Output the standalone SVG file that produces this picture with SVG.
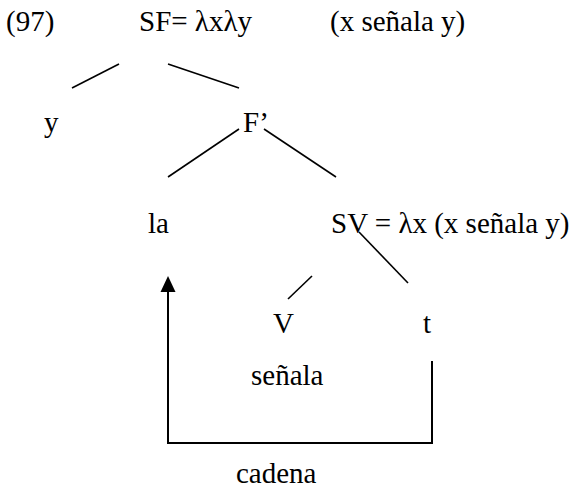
<svg xmlns="http://www.w3.org/2000/svg" width="574" height="491" viewBox="0 0 574 491">
<style>
text{font-family:"Liberation Serif","Times New Roman",serif;font-size:29px;fill:#000}
.e{stroke:#000;stroke-width:1.6;fill:none}
.c{stroke:#000;stroke-width:2;fill:none}
</style>
<rect width="574" height="491" fill="#fff"/>
<g id="label97"><text x="6" y="31">(97)</text></g>
<g id="SF"><text x="139" y="31">SF= λxλy</text></g>
<g id="SFgloss"><text x="330" y="31">(x señala y)</text></g>
<g id="y"><text x="44" y="132">y</text></g>
<g id="Fp"><text x="243" y="132">F’</text></g>
<g id="la"><text x="148" y="233">la</text></g>
<g id="SV"><text x="331" y="233">SV = λx (x señala y)</text></g>
<g id="V"><text x="273" y="333">V</text></g>
<g id="t"><text x="423" y="333">t</text></g>
<g id="senala"><text x="251" y="385">señala</text></g>
<g id="cadena"><text x="236" y="483">cadena</text></g>
<g id="connectors">
<line class="e" x1="119" y1="64" x2="72" y2="88"/>
<line class="e" x1="168" y1="64" x2="239" y2="88"/>
<line class="e" x1="239" y1="129" x2="168" y2="177"/>
<line class="e" x1="264" y1="129" x2="336" y2="177"/>
<line class="e" x1="312" y1="276" x2="288" y2="299"/>
<line class="e" x1="359" y1="232" x2="408" y2="283"/>
<polyline class="c" points="432,361 432,443 168,443 168,290"/>
<polygon points="168,276 160.5,292 175.5,292" fill="#000"/>
</g>
</svg>
